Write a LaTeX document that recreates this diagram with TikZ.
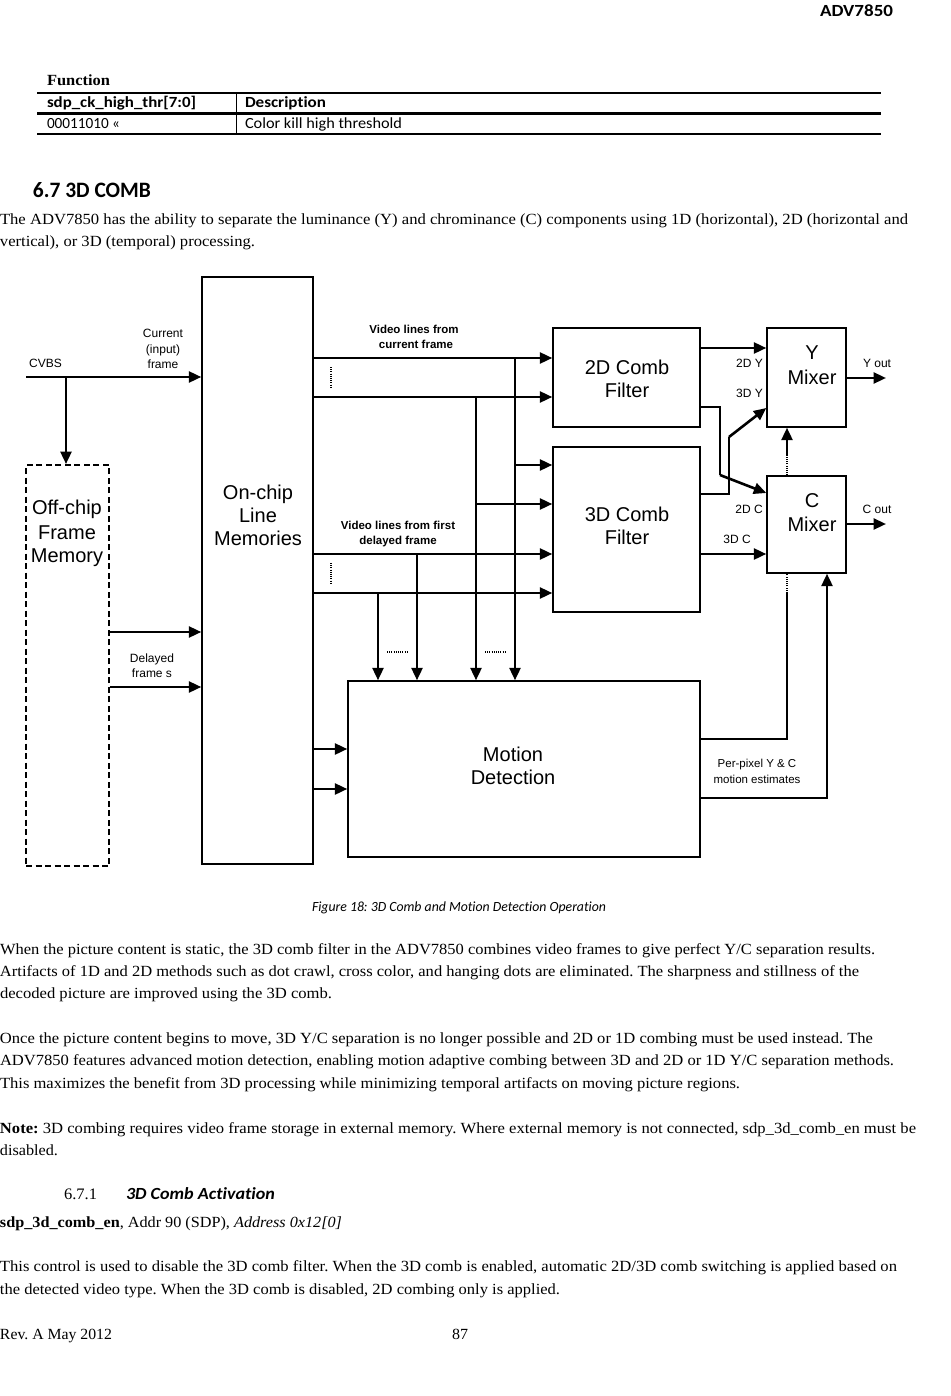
\documentclass[tikz,border=0pt]{standalone}
\usepackage{fontspec}
\usepackage{graphicx}
\setmainfont{Liberation Serif}
\newfontfamily\arialf{Liberation Sans}
\newfontfamily\myriadf{Carlito}[Ligatures=NoCommon]
\usetikzlibrary{arrows.meta}
\newcommand{\fw}[2]{\resizebox{#1pt}{\height}{#2}}
\frenchspacing
\begin{document}
\begin{tikzpicture}[x=1pt,y=-1pt,
  txt/.style={inner sep=0pt, outer sep=0pt, anchor=base west},
  body/.style={txt, font=\fontsize{15.5}{18}\selectfont},
  sans/.style={txt, font=\myriadf\fontsize{15.5}{17}\selectfont},
  dlab/.style={inner sep=0pt, anchor=base, font=\arialf\fontsize{12}{14}\selectfont},
  dbold/.style={inner sep=0pt, anchor=base, font=\arialf\bfseries\fontsize{11.5}{13}\selectfont},
  blab/.style={inner sep=0pt, anchor=base, font=\arialf\fontsize{20}{24}\selectfont},
  box/.style={draw, line width=1.4pt, inner sep=0pt, minimum width=#1},
  arr/.style={line width=2.6pt, -{Triangle[length=12.5pt,width=11pt]}},
  thinln/.style={line width=1.4pt},
  dots/.style={line width=1.2pt, dash pattern=on 1pt off 1.2pt},
]
\useasboundingbox (0,0) rectangle (950,1396);
\fill[white] (0,0) rectangle (950,1396);

% ---------- header and table ----------
\node[txt, font=\myriadf\bfseries\fontsize{17}{20}\selectfont] (hdr) at (820,17) {\fw{73}{ADV7850}};
\node[body, font=\bfseries\fontsize{15.5}{18}\selectfont] (func) at (47,86) {\fw{63}{Function}};
\draw[line width=1.8pt] (37,93) -- (881,93);
\draw[line width=2.4pt] (37,113.5) -- (881,113.5);
\draw[line width=1.8pt] (37,134) -- (881,134);
\draw[line width=0.9pt] (236,93) -- (236,134);
\node[sans, font=\myriadf\bfseries\fontsize{15.5}{17}\selectfont] (th1) at (47,108) {\fw{149}{sdp\_ck\_high\_thr[7:0]}};
\node[sans, font=\myriadf\bfseries\fontsize{15.5}{17}\selectfont] (th2) at (245,108) {\fw{81}{Description}};
\node[sans] (td1) at (47,129) {\fw{73}{00011010 «}};
\node[sans] (td2) at (245,129) {\fw{157}{Color kill high threshold}};

% ---------- section heading and intro ----------
\node[txt, font=\myriadf\bfseries\fontsize{22}{24}\selectfont] (sec) at (33,198) {\fw{118}{6.7 3D COMB}};
\node[body] (i1) at (0,225) {\fw{908}{The ADV7850 has the ability to separate the luminance (Y) and chrominance (C) components using 1D (horizontal), 2D (horizontal and}};
\node[body] (i2) at (0,247) {\fw{255}{vertical), or 3D (temporal) processing.}};

% ---------- diagram boxes ----------
\node[box=111pt, minimum height=587pt] (onchip) at (257.5,570.5) {};
\node[box=83pt, minimum height=401pt, line width=1.9pt, dash pattern=on 6pt off 3.5pt] (offchip) at (67.5,665.5) {};
\node[box=147pt, minimum height=99pt] (comb2) at (626.5,377.5) {};
\node[box=147pt, minimum height=165pt] (comb3) at (626.5,529.5) {};
\node[box=352pt, minimum height=176pt] (motion) at (524,769) {};
\node[box=79pt, minimum height=99pt] (ymix) at (806.5,377.5) {};
\node[box=79pt, minimum height=97pt] (cmix) at (806.5,524.5) {};

% box labels
\node[blab] (l_on1) at (258,499) {On-chip};
\node[blab] (l_on2) at (258,522) {Line};
\node[blab] (l_on3) at (258,545) {Memories};
\node[blab] (l_off1) at (67,514) {Off-chip};
\node[blab] (l_off2) at (67,539) {Frame};
\node[blab] (l_off3) at (67,562) {Memory};
\node[blab] (l_c2a) at (627,374) {2D Comb};
\node[blab] (l_c2b) at (627,397) {Filter};
\node[blab] (l_c3a) at (627,521) {3D Comb};
\node[blab] (l_c3b) at (627,544) {Filter};
\node[blab] (l_ya) at (812,359) {Y};
\node[blab] (l_yb) at (812,384) {Mixer};
\node[blab] (l_ca) at (812,507) {C};
\node[blab] (l_cb) at (812,531) {Mixer};
\node[blab] (l_m1) at (513,761) {Motion};
\node[blab] (l_m2) at (513,784) {Detection};

% ---------- input side ----------
\coordinate (cvbsin) at (26,377);
\coordinate (cvbsbr) at (66,377);
\draw[arr] (cvbsin) -- (onchip.west |- cvbsin);
\draw[arr] (cvbsbr) -- (cvbsbr |- offchip.north);
\draw[arr] (offchip.east |- 0,632) -- (onchip.west |- 0,632);
\draw[arr] (offchip.east |- 0,687) -- (onchip.west |- 0,687);
\node[dlab, anchor=base west] (cvbs) at (29,367) {CVBS};
\node[dlab] (cur1) at (163,337) {Current};
\node[dlab] (cur2) at (163,353) {(input)};
\node[dlab] (cur3) at (163,368) {frame};
\node[dlab] (del1) at (152,662) {Delayed};
\node[dlab] (del2) at (152,677) {frame s};

% ---------- buses ----------
\draw[arr] (onchip.east |- 0,358) -- (comb2.west |- 0,358);
\draw[arr] (onchip.east |- 0,397) -- (comb2.west |- 0,397);
\draw[arr] (515,358) -- (motion.north -| 515,0);
\draw[arr] (476,397) -- (motion.north -| 476,0);
\draw[arr] (515,465) -- (comb3.west |- 0,465);
\draw[arr] (476,504) -- (comb3.west |- 0,504);
\draw[arr] (onchip.east |- 0,554) -- (comb3.west |- 0,554);
\draw[arr] (onchip.east |- 0,593) -- (comb3.west |- 0,593);
\draw[arr] (417,554) -- (motion.north -| 417,0);
\draw[arr] (378,593) -- (motion.north -| 378,0);
\draw[arr] (onchip.east |- 0,749) -- (motion.west |- 0,749);
\draw[arr] (onchip.east |- 0,789) -- (motion.west |- 0,789);
\draw[dots] (331,367) -- (331,387);
\draw[dots] (331,563) -- (331,583);
\draw[dots] (387,652) -- (408,652);
\draw[dots] (485,652) -- (506,652);
\node[dbold] (vl1) at (414,334) {Video lines from};
\node[dbold] (vl2) at (416,348) {current frame};
\node[dbold] (vl3) at (398,529) {Video lines from first};
\node[dbold] (vl4) at (398,544) {delayed frame};

% ---------- outputs of comb filters ----------
\draw[arr] (comb2.east |- 0,348) -- (ymix.west |- 0,348);
\draw[thinln] (comb2.east |- 0,407) -- (720,407) -- (720,475);
\draw[arr] (720,475) -- (cmix.west |- 0,493);
\draw[thinln] (comb3.east |- 0,494) -- (729,494) -- (729,437);
\draw[arr] (729,437) -- (ymix.west |- 0,408);
\draw[arr] (comb3.east |- 0,554) -- (cmix.west |- 0,554);
\node[dlab, anchor=base east] (l2dy) at (763,367) {2D Y};
\node[dlab, anchor=base east] (l3dy) at (763,397) {3D Y};
\node[dlab, anchor=base east] (l2dc) at (763,513) {2D C};
\node[dlab] (l3dc) at (737,543) {3D C};

% ---------- mixers ----------
\coordinate (yout) at (886,378);
\coordinate (cout) at (886,524);
\draw[arr] (ymix.east |- yout) -- (yout);
\draw[arr] (cmix.east |- cout) -- (cout);
\node[dlab] (lyout) at (877,367) {Y out};
\node[dlab] (lcout) at (877,513) {C out};
\draw[dots] (cmix.north -| 787,0) -- (787,454);
\draw[arr] (787,455) -- (ymix.south -| 787,0);

% ---------- motion estimates ----------
\draw[thinln] (motion.east |- 0,739) -- (787,739) -- (787,593);
\draw[dots] (787,593) -- (cmix.south -| 787,0);
\draw[thinln] (motion.east |- 0,798) -- (827,798);
\draw[arr] (827,798.7) -- (cmix.south -| 827,0);
\node[dlab, font=\arialf\fontsize{11.5}{13}\selectfont] (pp1) at (757,767) {Per-pixel Y \& C};
\node[dlab, font=\arialf\fontsize{11.5}{13}\selectfont] (pp2) at (757,783) {motion estimates};

% ---------- caption and text ----------
\node[txt, font=\myriadf\itshape\fontsize{14}{16}\selectfont] (cap) at (312,911) {\fw{294}{Figure 18: 3D Comb and Motion Detection Operation}};
\node[body] (a1) at (0,954) {\fw{875}{When the picture content is static, the 3D comb filter in the ADV7850 combines video frames to give perfect Y/C separation results.}};
\node[body] (a2) at (0,976) {\fw{859}{Artifacts of 1D and 2D methods such as dot crawl, cross color, and hanging dots are eliminated. The sharpness and stillness of the}};
\node[body] (a3) at (0,998) {\fw{332}{decoded picture are improved using the 3D comb.}};
\node[body] (b1) at (0,1043) {\fw{873}{Once the picture content begins to move, 3D Y/C separation is no longer possible and 2D or 1D combing must be used instead. The}};
\node[body] (b2) at (0,1065) {\fw{894}{ADV7850 features advanced motion detection, enabling motion adaptive combing between 3D and 2D or 1D Y/C separation methods.}};
\node[body] (b3) at (0,1088) {\fw{740}{This maximizes the benefit from 3D processing while minimizing temporal artifacts on moving picture regions.}};
\node[body] (n1) at (0,1133) {\fw{916}{\textbf{Note:} 3D combing requires video frame storage in external memory. Where external memory is not connected, sdp\_3d\_comb\_en must be}};
\node[body] (n2) at (0,1155) {\fw{58}{disabled.}};
\node[body, font=\fontsize{16}{18}\selectfont] (sub1) at (64,1199) {\fw{33}{6.7.1}};
\node[txt, font=\myriadf\bfseries\itshape\fontsize{17}{18}\selectfont] (sub2) at (126,1199) {\fw{149}{3D Comb Activation}};
\node[body] (reg) at (0,1227) {\fw{342}{\textbf{sdp\_3d\_comb\_en}, Addr 90 (SDP), \textit{Address 0x12[0]}}};
\node[body] (c1) at (0,1271) {\fw{897}{This control is used to disable the 3D comb filter. When the 3D comb is enabled, automatic 2D/3D comb switching is applied based on}};
\node[body] (c2) at (0,1294) {\fw{560}{the detected video type. When the 3D comb is disabled, 2D combing only is applied.}};
\node[body] (rev) at (0,1339) {\fw{112}{Rev. A May 2012}};
\node[body] (pg) at (452,1339) {\fw{16}{87}};
\end{tikzpicture}
\end{document}
